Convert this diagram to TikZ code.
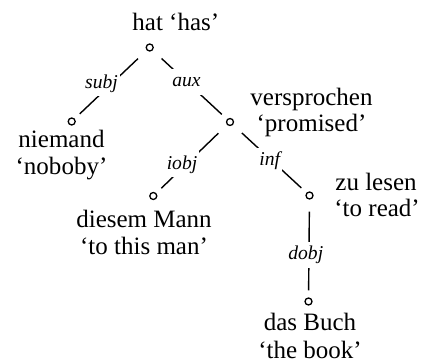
\documentclass[tikz,border=0pt]{standalone}
\usepackage{fontspec}
\setmainfont{Liberation Serif}
\begin{document}
\begin{tikzpicture}[x=0.5pt,y=-0.5pt,
  dep/.style={circle,draw,line width=0.65pt,inner sep=0pt,minimum size=3.5pt},
  word/.style={anchor=base,inner sep=0pt,font=\fontsize{12.5}{13.5}\selectfont},
  rel/.style={fill=white,font=\fontsize{9.8}{10}\selectfont\itshape,inner xsep=1pt,inner ysep=2.2pt,text height=6.6pt,text depth=2pt},
  link/.style={line width=0.7pt,shorten <=6pt,shorten >=3.5pt}]
\useasboundingbox (0,0) rectangle (422,362);

% head circles of the dependency tree
\node[dep] (hat)  at (149.7,47.5) {};
\node[dep] (nie)  at (71.7,121.5) {};
\node[dep] (ver)  at (230,122) {};
\node[dep] (man)  at (153.3,196) {};
\node[dep] (les)  at (309.5,195.5) {};
\node[dep] (buch) at (308.5,301.5) {};

% word forms (first line) and glosses (second line)
\node[word,anchor=base west] (what) at (132,30.5) {hat ‘has’};
\node[word] (wnie)  at (61.5,147.3) {niemand};
\node[word] (gnie)  at (61.5,174.3) {‘noboby’};
\node[word] (wver)  at (311.5,105.5) {versprochen};
\node[word] (gver)  at (311.5,132) {‘promised’};
\node[word] (wman)  at (144,227.3) {diesem Mann};
\node[word] (gman)  at (144,255) {‘to this man’};
\node[word,anchor=base west] (wles) at (335,190.5) {zu lesen};
\node[word,anchor=base west] (gles) at (334,217) {‘to read’};
\node[word] (wbuch) at (310,331) {das Buch};
\node[word] (gbuch) at (310,358) {‘the book’};

% dependency arcs
\draw[link] (hat) -- (nie);
\draw[link] (hat) -- (ver);
\draw[link] (ver) -- (man);
\draw[link] (ver) -- (les);
\draw[link] (les) -- (buch);

% relation labels, masking the arcs
\node[rel] (subj) at (101.5,83.5) {subj};
\node[rel] (aux)  at (186.5,82) {aux};
\node[rel] (iobj) at (182,164.5) {iobj};
\node[rel] (inf)  at (269.7,161) {inf};
\node[rel] (dobj) at (305.8,255) {dobj};
\end{tikzpicture}
\end{document}
